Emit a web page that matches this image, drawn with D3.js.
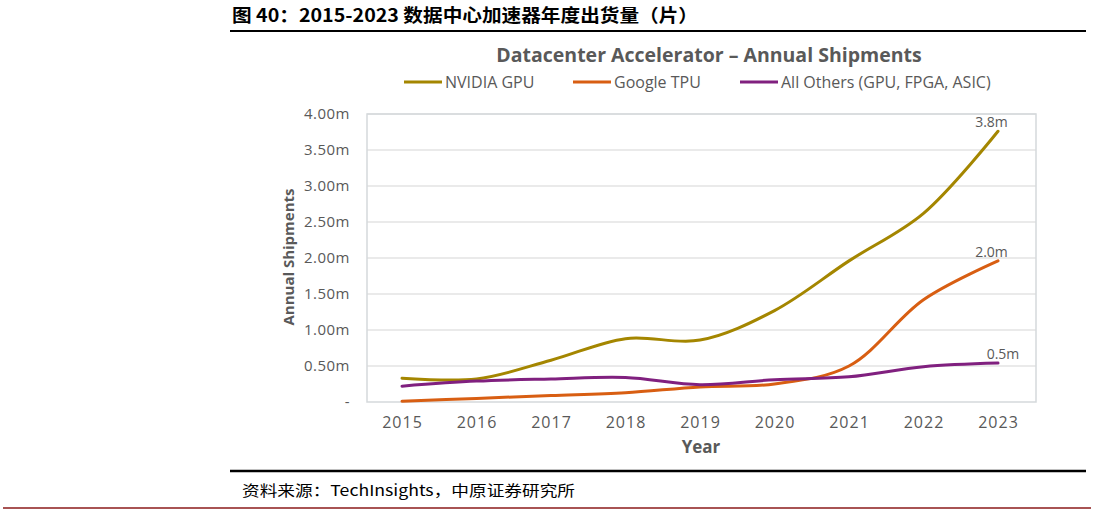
<!DOCTYPE html>
<html><head><meta charset="utf-8">
<script src="https://cdn.jsdelivr.net/npm/d3@7/dist/d3.min.js"></script>
<style>
body{margin:0;background:#fff;}
svg{display:block;}
</style></head>
<body>
<svg id="c" width="1094" height="514"></svg>
<script>
const years = [2015, 2016, 2017, 2018, 2019, 2020, 2021, 2022, 2023];
const nvidia = [0.33, 0.32, 0.58, 0.88, 0.86, 1.27, 1.96, 2.62, 3.76];
const google = [0.01, 0.05, 0.09, 0.13, 0.21, 0.25, 0.50, 1.42, 1.96];
const others = [0.22, 0.29, 0.32, 0.34, 0.24, 0.31, 0.35, 0.49, 0.54];
const yTicks = [0, 0.5, 1, 1.5, 2, 2.5, 3, 3.5, 4];
const endLabels = ["3.8m", "2.0m", "0.5m"];
const seriesNames = ["NVIDIA GPU", "Google TPU", "All Others (GPU, FPGA, ASIC)"];
const colors = ["#A48600", "#D85E12", "#80207F"];

const svg = d3.select("#c");
const font = "'Open Sans', 'Noto Sans', sans-serif";
const grey = "#595959";

// header
svg.append("text").attr("x", 232).attr("y", 22)
  .attr("font-family", "'Noto Sans CJK SC', sans-serif").attr("font-weight", "bold")
  .attr("font-size", 18).attr("fill", "#000")
  .attr("textLength", 466).attr("lengthAdjust", "spacingAndGlyphs")
  .text("图 40：2015-2023 数据中心加速器年度出货量（片）");
svg.append("line").attr("x1", 230).attr("x2", 1086).attr("y1", 31).attr("y2", 31)
  .attr("stroke", "#000").attr("stroke-width", 2);

// footer
svg.append("line").attr("x1", 230).attr("x2", 1086).attr("y1", 471).attr("y2", 471)
  .attr("stroke", "#000").attr("stroke-width", 2.5);
svg.append("text").attr("x", 242).attr("y", 496)
  .attr("font-family", "'Noto Sans CJK SC', sans-serif")
  .attr("font-size", 15).attr("fill", "#000")
  .attr("textLength", 333).attr("lengthAdjust", "spacingAndGlyphs")
  .text("资料来源：TechInsights，中原证券研究所");
svg.append("line").attr("x1", 3).attr("x2", 1091).attr("y1", 508).attr("y2", 508)
  .attr("stroke", "#8B1A1A").attr("stroke-width", 1.5);

const L = 367, R = 1036, T = 114, B = 402;
const x = d3.scalePoint().domain(years).range([402, 998]);
const y = d3.scaleLinear().domain([0, 4]).range([B, T]);

// title
svg.append("text").attr("x", 709).attr("y", 62).attr("text-anchor", "middle")
  .attr("font-family", font).attr("font-weight", "bold").attr("font-size", 19.5)
  .attr("fill", grey).text("Datacenter Accelerator – Annual Shipments");

// legend
const legX = [404, 573, 740];
seriesNames.forEach((n, i) => {
  svg.append("line").attr("x1", legX[i]).attr("x2", legX[i] + 38).attr("y1", 82).attr("y2", 82)
    .attr("stroke", colors[i]).attr("stroke-width", 3);
  svg.append("text").attr("x", legX[i] + 41).attr("y", 88)
    .attr("font-family", font).attr("font-size", 16).attr("fill", grey).text(n);
});

// gridlines
svg.append("g").selectAll("line").data(yTicks.filter(d => d > 0)).join("line")
  .attr("x1", L).attr("x2", R).attr("y1", d => y(d)).attr("y2", d => y(d))
  .attr("stroke", "#E3E3E3").attr("stroke-width", 1.5);
// plot border
svg.append("rect").attr("x", L).attr("y", T).attr("width", R - L).attr("height", B - T)
  .attr("fill", "none").attr("stroke", "#D5D9DB").attr("stroke-width", 1.5);

// y axis
const yAxis = d3.axisLeft(y).tickValues(yTicks).tickSize(0).tickPadding(17)
  .tickFormat(d => d === 0 ? "-" : d.toFixed(2) + "m");
const gy = svg.append("g").attr("transform", `translate(${L},0)`).call(yAxis);
gy.select(".domain").remove();
gy.selectAll("text").attr("font-family", font).attr("font-size", 15)
  .attr("letter-spacing", 0.5).attr("fill", grey);

// x axis
const xAxis = d3.axisBottom(x).tickSize(0).tickPadding(15);
const gx = svg.append("g").attr("transform", `translate(0,${B})`).call(xAxis);
gx.select(".domain").remove();
gx.selectAll("text").attr("font-family", font).attr("font-size", 16)
  .attr("letter-spacing", 1).attr("fill", grey);

// axis titles
svg.append("text").attr("transform", `translate(294,257) rotate(-90)`).attr("text-anchor", "middle")
  .attr("font-family", font).attr("font-weight", "bold").attr("font-size", 15)
  .attr("fill", grey).text("Annual Shipments");
svg.append("text").attr("x", 701).attr("y", 453).attr("text-anchor", "middle")
  .attr("font-family", font).attr("font-weight", "bold").attr("font-size", 17)
  .attr("fill", grey).text("Year");

// lines
const line = d3.line().x((d, i) => x(years[i])).y(d => y(d)).curve(d3.curveCatmullRom.alpha(0.5));
[nvidia, google, others].forEach((s, i) => {
  svg.append("path").datum(s).attr("d", line).attr("fill", "none")
    .attr("stroke", colors[i]).attr("stroke-width", 3).attr("stroke-linecap", "round");
});

// end labels
const labelDx = [-6.5, -6.5, 5];
[nvidia, google, others].forEach((s, i) => {
  const v = s[s.length - 1];
  svg.append("text").attr("x", x(2023) + labelDx[i]).attr("y", y(v) - 4)
    .attr("text-anchor", "middle").attr("font-family", font).attr("font-size", 14)
    .attr("fill", grey).text(endLabels[i]);
});
</script>
</body></html>
